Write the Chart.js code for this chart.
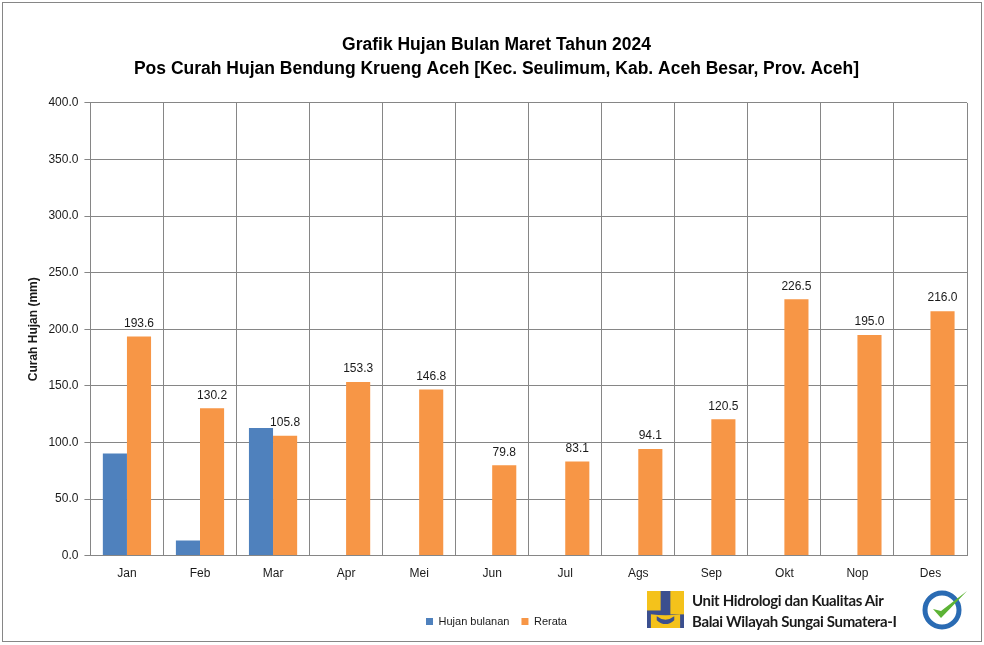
<!DOCTYPE html>
<html>
<head>
<meta charset="utf-8">
<script src="https://cdn.jsdelivr.net/npm/chart.js@4.4.1/dist/chart.umd.min.js"></script>
<style>
body { margin: 0; background: #fff; }
#wrap { position: relative; width: 984px; height: 645px; }
#frame { position: absolute; left: 2px; top: 2px; width: 978px; height: 638px; border: 1px solid #868686; pointer-events: none; }
#logo { position: absolute; left: 646px; top: 591px; width: 39px; height: 37px; }
#brand { position: absolute; left: 692px; top: 590px; font-family: Lato, 'Open Sans', sans-serif; font-weight: bold; font-size: 15px; letter-spacing: -0.35px; line-height: 21px; color: #1a1a1a; }
#iso { position: absolute; left: 921px; top: 587px; width: 50px; height: 44px; }
</style>
</head>
<body>
<div id="wrap">
  <canvas id="chart" width="984" height="645"></canvas>
  <div id="frame"></div>
  <svg id="logo" viewBox="0 0 38 38">
    <rect x="0" y="0" width="38" height="38" fill="#3b4f8f"/>
    <rect x="0" y="0" width="14" height="20" fill="#f4c21b"/>
    <rect x="24" y="0" width="14" height="24" fill="#f4c21b"/>
    <path d="M4 24 Q19 26 34 24 L34 38 L4 38 Z" fill="#f4c21b"/>
    <path d="M10 26 Q19 33 28 26 L28 30 Q19 38 10 30 Z" fill="#3b4f8f"/>
  </svg>
  <div id="brand">Unit Hidrologi dan Kualitas Air<br>Balai Wilayah Sungai Sumatera-I</div>
  <svg id="iso" viewBox="0 0 50 44">
    <circle cx="21" cy="23" r="17" fill="#fff" stroke="#2a6bb3" stroke-width="5"/>
    <path d="M12 22 L20 31 L46 4 L20 24 Z" fill="#5cb335"/>
  </svg>
</div>
<script>
var months = ['Jan', 'Feb', 'Mar', 'Apr', 'Mei', 'Jun', 'Jul', 'Ags', 'Sep', 'Okt', 'Nop', 'Des'];
var hujanBulanan = [90.2, 13.3, 112.7, null, null, null, null, null, null, null, null, null];
var rerata = [193.6, 130.2, 105.8, 153.3, 146.8, 79.8, 83.1, 94.1, 120.5, 226.5, 195.0, 216.0];

var plain = "'Liberation Sans', Arial, sans-serif";

// angka di atas batang rerata
var valueLabels = {
    id: 'valueLabels',
    afterDatasetsDraw: function(chart) {
        var ctx = chart.ctx;
        var meta = chart.getDatasetMeta(1);
        ctx.save();
        ctx.font = '12px ' + plain;
        ctx.fillStyle = '#1a1a1a';
        ctx.textAlign = 'center';
        ctx.textBaseline = 'bottom';
        meta.data.forEach(function(bar, i) {
            ctx.fillText(rerata[i].toFixed(1), bar.x, bar.y - 7);
        });
        ctx.restore();
    }
};

var ctx = document.getElementById('chart').getContext('2d');
var myChart = new Chart(ctx, {
    type: 'bar',
    data: {
        labels: months,
        datasets: [{
            label: 'Hujan bulanan',
            data: hujanBulanan,
            backgroundColor: '#4f81bd'
        }, {
            label: 'Rerata',
            data: rerata,
            backgroundColor: '#f79646'
        }]
    },
    options: {
        responsive: false,
        animation: false,
        categoryPercentage: 0.66,
        barPercentage: 1.0,
        layout: { padding: { left: 26, right: 17, top: 20, bottom: 8 } },
        plugins: {
            title: {
                display: true,
                text: ['Grafik Hujan Bulan Maret Tahun 2024', 'Pos Curah Hujan Bendung Krueng Aceh [Kec. Seulimum, Kab. Aceh Besar, Prov. Aceh]'],
                font: { family: plain, size: 17.5, weight: 'bold', lineHeight: 1.37 },
                color: '#000',
                padding: { top: 13, bottom: 22 }
            },
            legend: {
                position: 'bottom',
                labels: {
                    boxWidth: 7,
                    boxHeight: 7,
                    padding: 12,
                    font: { family: plain, size: 11 },
                    color: '#1a1a1a'
                }
            },
            tooltip: { enabled: false }
        },
        scales: {
            x: {
                grid: { color: '#868686', lineWidth: 1, drawTicks: false },
                border: { color: '#868686' },
                ticks: { font: { family: plain, size: 12 }, color: '#1a1a1a', padding: 11 },
                afterFit: function(scale) { scale.height += 12; }
            },
            y: {
                min: 0,
                max: 400,
                ticks: {
                    stepSize: 50,
                    font: { family: plain, size: 12 },
                    color: '#1a1a1a',
                    padding: 6,
                    callback: function(v) { return v.toFixed(1); }
                },
                grid: { color: '#868686', lineWidth: 1, tickLength: 6 },
                border: { color: '#868686' },
                title: {
                    display: true,
                    text: 'Curah Hujan (mm)',
                    font: { family: plain, size: 12, weight: 'bold' },
                    color: '#1a1a1a',
                    padding: { top: 0, bottom: 2 }
                }
            }
        }
    },
    plugins: [valueLabels]
});
</script>
</body>
</html>
